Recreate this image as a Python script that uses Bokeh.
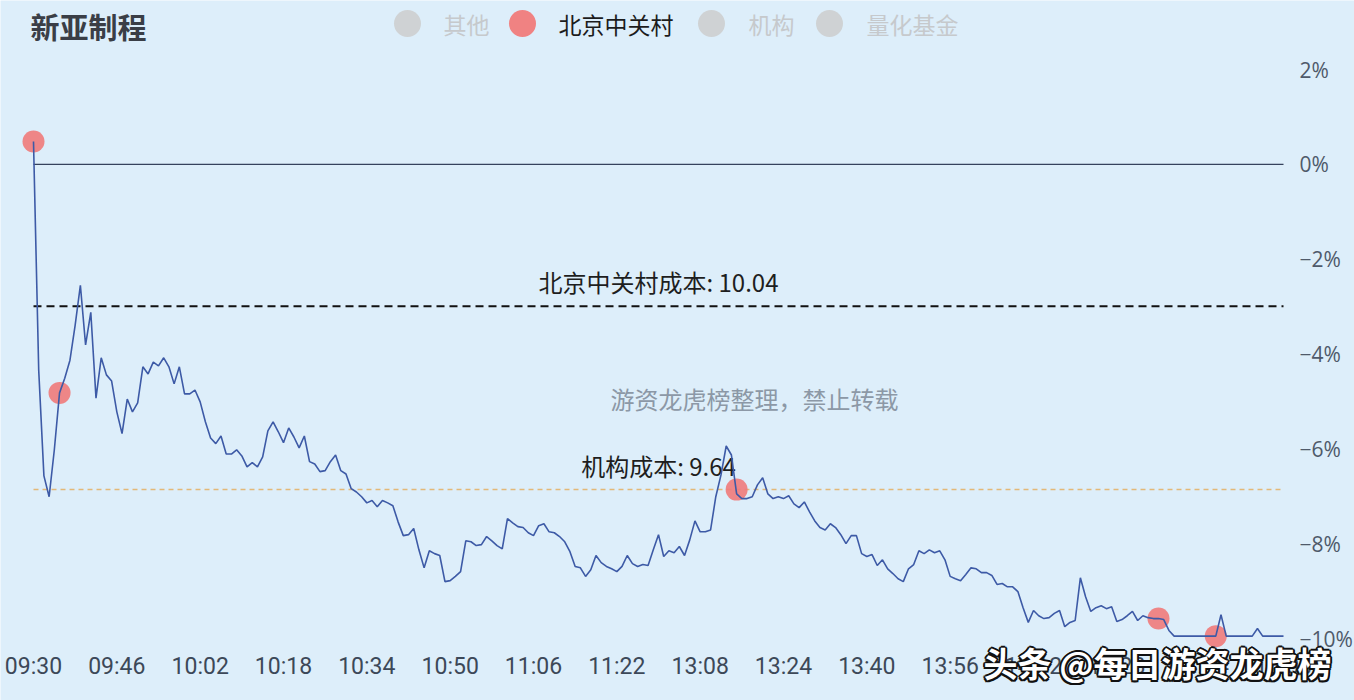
from bokeh.plotting import figure
from bokeh.models import Range1d
from bokeh.embed import file_html
from bokeh.resources import INLINE
from bokeh.core.properties import value

# ---------------- data ----------------
stock_name = "新亚制程"
legend_names = ["其他", "北京中关村", "机构", "量化基金"]
legend_active = [False, True, False, False]

time_labels = ["09:30", "09:46", "10:02", "10:18", "10:34", "10:50", "11:06", "11:22",
               "13:08", "13:24", "13:40", "13:56", "14:12", "14:28", "14:44", "15:00"]

# minute-by-minute change vs previous close (%), 241 points 09:30-11:30, 13:01-15:00
pct = [
    0.48, -4.34, -6.57, -7.01, -6.02, -4.82, -4.51, -4.13, -3.39, -2.55,
    -3.81, -3.12, -4.93, -4.08, -4.44, -4.57, -5.22, -5.68, -4.95, -5.22,
    -5.03, -4.27, -4.42, -4.17, -4.25, -4.08, -4.27, -4.63, -4.27, -4.84,
    -4.84, -4.76, -5.01, -5.43, -5.77, -5.89, -5.73, -6.11, -6.11, -6.02,
    -6.15, -6.38, -6.29, -6.38, -6.17, -5.62, -5.43, -5.64, -5.87, -5.56,
    -5.75, -5.98, -5.73, -6.27, -6.32, -6.48, -6.46, -6.27, -6.13, -6.46,
    -6.53, -6.84, -6.91, -7.01, -7.14, -7.09, -7.22, -7.09, -7.14, -7.20,
    -7.54, -7.83, -7.81, -7.68, -8.13, -8.51, -8.15, -8.21, -8.25, -8.80,
    -8.78, -8.69, -8.59, -7.94, -7.96, -8.04, -8.02, -7.85, -7.94, -8.04,
    -8.11, -7.47, -7.56, -7.64, -7.66, -7.77, -7.83, -7.62, -7.58, -7.75,
    -7.77, -7.85, -7.96, -8.17, -8.48, -8.51, -8.69, -8.55, -8.25, -8.40,
    -8.48, -8.53, -8.59, -8.48, -8.25, -8.42, -8.48, -8.44, -8.46, -8.13,
    -7.81, -8.27, -8.15, -8.19, -8.06, -8.25, -7.92, -7.52, -7.75, -7.75,
    -7.71, -7.01, -6.55, -5.94, -6.13, -6.95, -7.05, -7.05, -7.01, -6.76,
    -6.61, -6.95, -7.05, -7.01, -7.05, -6.99, -7.16, -7.24, -7.12, -7.33,
    -7.52, -7.66, -7.71, -7.58, -7.66, -7.81, -8.00, -7.83, -7.83, -8.21,
    -8.27, -8.23, -8.46, -8.34, -8.53, -8.63, -8.74, -8.80, -8.53, -8.44,
    -8.15, -8.21, -8.13, -8.19, -8.15, -8.34, -8.69, -8.74, -8.78, -8.65,
    -8.51, -8.53, -8.61, -8.61, -8.67, -8.86, -8.84, -8.91, -8.91, -9.01,
    -9.35, -9.66, -9.41, -9.52, -9.58, -9.56, -9.47, -9.41, -9.75, -9.66,
    -9.62, -8.72, -9.12, -9.43, -9.35, -9.31, -9.37, -9.33, -9.64, -9.60,
    -9.52, -9.43, -9.62, -9.52, -9.56, -9.58, -9.58, -9.60, -9.83, -9.95,
    -9.95, -9.95, -9.95, -9.95, -9.95, -9.95, -9.95, -9.95, -9.50, -9.95,
    -9.95, -9.95, -9.95, -9.95, -9.95, -9.79, -9.95, -9.95, -9.95, -9.95,
    -9.95,
]

# trade points of 北京中关村 (minute index, % change)
dot_idx = [0, 5, 135, 216, 227]
dot_pct = [0.48, -4.82, -6.86, -9.58, -9.95]

prev_close = 10.35
cost_names = ["北京中关村成本", "机构成本"]
cost_prices = [10.04, 9.64]

y_ticks = [2, 0, -2, -4, -6, -8, -10]
y_tick_labels = ["2%", "0%", "−2%", "−4%", "−6%", "−8%", "−10%"]

watermark = "游资龙虎榜整理，禁止转载"
platform_mark = "头条 @每日游资龙虎榜"

# ---------------- layout (pixels of the 1354x700 page) ----------------
W, H = 1354, 700
PLOT_L, PLOT_R, PLOT_T, PLOT_B = 33, 1283, 69, 638
N = len(pct) - 1
KX = (PLOT_R - PLOT_L) / N
KY = (PLOT_B - PLOT_T) / (y_ticks[0] - y_ticks[-1])


def px_x(px):
    return (px - PLOT_L) / KX


def px_y(py):
    return y_ticks[0] - (py - PLOT_T) / KY


BG = "#ddeefa"
CJK = value("Noto Sans CJK SC")

p = figure(width=W, height=H,
           x_range=Range1d(px_x(0), px_x(W)), y_range=Range1d(px_y(H), px_y(0)),
           x_axis_type=None, y_axis_type=None,
           output_backend="svg", toolbar_location=None, min_border=0,
           background_fill_color=BG, border_fill_color=BG, outline_line_color=None)

# value axis labels (right side)
p.text(x=[px_x(1299)] * len(y_ticks), y=y_ticks, text=y_tick_labels,
       text_font=value("Open Sans"), text_font_size="21px", text_color="#4f5a6a",
       text_align="left", text_baseline="middle")

# time axis labels along the bottom
tick_idx = list(range(0, N + 1, 16))
p.text(x=tick_idx, y=[px_y(666)] * len(tick_idx), text=time_labels,
       text_font=value("Roboto"), text_font_size="23px", text_color="#3c4858",
       text_align="center", text_baseline="middle")

# title + legend
p.text(x=[px_x(30)], y=[px_y(25)], text=[stock_name], text_font=CJK, text_font_style="bold",
       text_font_size="29px", text_color="#3a3e46", text_baseline="middle")
marker_x = [px_x(v) for v in (407, 522, 711, 829)]
label_x = [px_x(v) for v in (443, 558, 748, 866)]
marker_colors = ["#f08282" if a else "#cfd2d4" for a in legend_active]
label_colors = ["#1c1c1c" if a else "#c6c9cc" for a in legend_active]
p.scatter(x=marker_x, y=[px_y(23)] * 4, size=27, fill_color=marker_colors, line_color=None)
p.text(x=label_x, y=[px_y(23)] * 4, text=legend_names, text_font=CJK, text_font_size="23px",
       text_color=label_colors, text_baseline="middle")

# zero line
p.segment(x0=[0], y0=[0], x1=[N], y1=[0], line_color="#35425c", line_width=1.2)

# cost lines with labels
cost_pct = [(c / prev_close - 1) * 100 for c in cost_prices]
styles = [dict(line_color="#111111", line_width=2, line_dash="8 5"),
          dict(line_color="#e3b878", line_width=1.5, line_dash="5 4")]
for name, price, cp, st in zip(cost_names, cost_prices, cost_pct, styles):
    p.segment(x0=[0], y0=[cp], x1=[N], y1=[cp], **st)
    p.text(x=[N / 2], y=[cp], text=[f"{name}: {price:.2f}"], text_align="center",
           text_baseline="bottom", y_offset=-7, text_font=CJK,
           text_font_size="24px", text_color="#1e1e1e")

# trade dots, then price line
p.scatter(x=dot_idx, y=dot_pct, size=22, fill_color="#f07a7a", fill_alpha=0.9, line_color=None)
p.line(x=list(range(len(pct))), y=pct, line_color="#3d5aa6", line_width=1.6)

# watermark in the middle
p.text(x=[px_x(754)], y=[px_y(398)], text=[watermark], text_align="center", text_baseline="middle",
       text_font=CJK, text_font_size="24px", text_color="#8c98a6")

# platform watermark (white with dark outline)
offs = [(-2, 0), (2, 0), (0, -2), (0, 2), (-1.5, -1.5), (1.5, 1.5), (-1.5, 1.5), (1.5, -1.5)]
p.text(x=[px_x(983)] * len(offs), y=[px_y(662)] * len(offs), text=[platform_mark] * len(offs),
       x_offset=[o[0] for o in offs], y_offset=[o[1] for o in offs],
       text_align="left", text_baseline="middle", text_font=CJK, text_font_style="bold",
       text_font_size="34px", text_color="#111111")
p.text(x=[px_x(983)], y=[px_y(662)], text=[platform_mark], text_align="left", text_baseline="middle",
       text_font=CJK, text_font_style="bold", text_font_size="34px", text_color="#ffffff")

open("out.html", "w").write(file_html(p, INLINE))
